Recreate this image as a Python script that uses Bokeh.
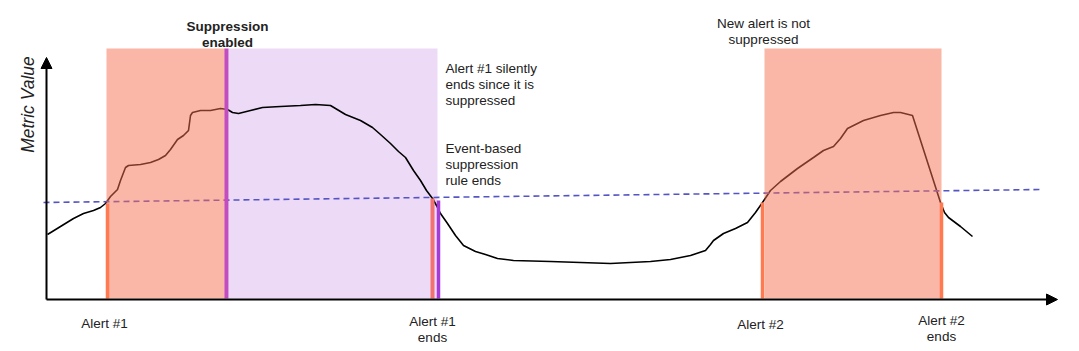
import numpy as np
from bokeh.plotting import figure
from bokeh.models import Range1d, Arrow, NormalHead
from bokeh.core.properties import value
from bokeh.embed import file_html
from bokeh.resources import INLINE

# ---- data (time units, metric value) ----
curve_t = [47, 60, 73, 83, 93, 100, 105, 110, 117, 120, 125, 128, 140, 150, 158, 165, 170, 177, 183,
           188, 190, 192, 200, 210, 220, 227, 232, 238, 250, 262, 280, 300, 315, 330, 335, 345, 360,
           372, 380, 390, 398, 405, 413, 420, 426, 432, 436, 440, 447, 455, 463, 475, 485, 497, 513,
           550, 580, 610, 630, 650, 670, 690, 705, 710, 713, 723, 735, 747, 755, 762, 770, 780, 797,
           813, 823, 833, 840, 847, 855, 863, 880, 893, 900, 912, 940, 944, 948, 960, 972]
curve_v = [64, 72, 80, 85, 88, 91, 95, 102, 109, 118, 131, 133, 134, 136, 139, 143, 149, 159, 163,
           168, 183, 186, 188, 188, 190, 189, 186, 185, 188, 191, 192, 193, 194, 193, 190, 184, 178,
           171, 164, 155, 147, 141, 128, 118, 108, 100, 93, 85, 75, 63, 53, 47, 44, 40, 38,
           37, 36, 35, 36, 37, 39, 43, 48, 54, 58, 65, 70, 76, 86, 96, 108, 117, 130,
           141, 148, 152, 160, 170, 174, 178, 183, 186, 186, 183, 96, 86, 81, 72, 62]

threshold_t = [43, 1042]
threshold_v = [96, 109]

alert_start = [106, 764]
alert_end = [225, 941]
suppress_start = 228
suppress_end = 437
region_top = 250

alert_mark_t = [107, 762, 941]
alert_mark_v = [95, 96, 96]
supp_on_t = 226
alert1_end_t = 432
alert1_end_v = 100
supp_off_t = 438
supp_off_v = 98

axis_x0, axis_x1 = 46, 1057
axis_y0, axis_y1 = -1, 241

FONT = value("Liberation Sans")
TXT = "#222222"
FS = "13.5px"

p = figure(width=1079, height=351, output_backend="svg", toolbar_location=None,
           x_range=Range1d(0, 1079), y_range=Range1d(-53, 298), min_border=0)
p.axis.visible = False
p.grid.visible = False
p.outline_line_color = None
p.background_fill_color = "white"

# lavender suppression window (beneath the curve)
p.quad(left=[suppress_start], right=[suppress_end], bottom=[0], top=[region_top],
       fill_color="#EDDAF6", line_color=None)

# curve and threshold
p.line(curve_t, curve_v, line_color="black", line_width=1.6)
p.line(threshold_t, threshold_v, line_color="#5454C4", line_width=1.6, line_dash="6 4")

# alert windows (over the curve, translucent)
p.quad(left=alert_start, right=alert_end, bottom=[0, 0], top=[region_top, region_top],
       fill_color="#F56D4D", fill_alpha=0.5, line_color=None)

# vertical markers
p.segment(x0=alert_mark_t, y0=[0] * 3, x1=alert_mark_t, y1=alert_mark_v,
          line_color="#FF7A50", line_width=3.5)
p.segment(x0=[supp_on_t], y0=[0], x1=[supp_on_t], y1=[region_top],
          line_color="#C24CC2", line_width=4)
p.segment(x0=[alert1_end_t], y0=[0], x1=[alert1_end_t], y1=[alert1_end_v],
          line_color="#F27272", line_width=4)
p.segment(x0=[supp_off_t], y0=[0], x1=[supp_off_t], y1=[supp_off_v],
          line_color="#A63AD8", line_width=3.5)

# axes with arrow heads
p.add_layout(Arrow(end=NormalHead(size=11, fill_color="black", line_color="black"),
                   x_start=axis_x0, y_start=axis_y0, x_end=axis_x0, y_end=axis_y1,
                   line_color="black", line_width=2))
p.add_layout(Arrow(end=NormalHead(size=11, fill_color="black", line_color="black"),
                   x_start=axis_x0, y_start=axis_y0, x_end=axis_x1, y_end=axis_y0,
                   line_color="black", line_width=2))

# texts
p.text(x=[27], y=[194], text=["Metric Value"], angle=np.pi / 2, text_align="center",
       text_baseline="middle", text_font=FONT, text_font_size="17.5px",
       text_font_style="italic", text_color=TXT)

p.text(x=[227, 227], y=[272, 256], text=["Suppression", "enabled"], text_align="center",
       text_baseline="alphabetic", text_font=FONT, text_font_size=FS,
       text_font_style="bold", text_color=TXT)

center_x = [104, 432, 432, 760, 941, 941, 763, 763]
center_y = [-25, -23, -39, -26, -22, -38, 275, 259]
center_s = ["Alert #1", "Alert #1", "ends", "Alert #2", "Alert #2", "ends",
            "New alert is not", "suppressed"]
p.text(x=center_x, y=center_y, text=center_s, text_align="center", text_baseline="alphabetic",
       text_font=FONT, text_font_size=FS, text_color=TXT)

left_x = [445] * 6
left_y = [230, 214, 198, 150, 134, 118]
left_s = ["Alert #1 silently", "ends since it is", "suppressed",
          "Event-based", "suppression", "rule ends"]
p.text(x=left_x, y=left_y, text=left_s, text_align="left", text_baseline="alphabetic",
       text_font=FONT, text_font_size=FS, text_color=TXT)

open("out.html", "w").write(file_html(p, INLINE))
